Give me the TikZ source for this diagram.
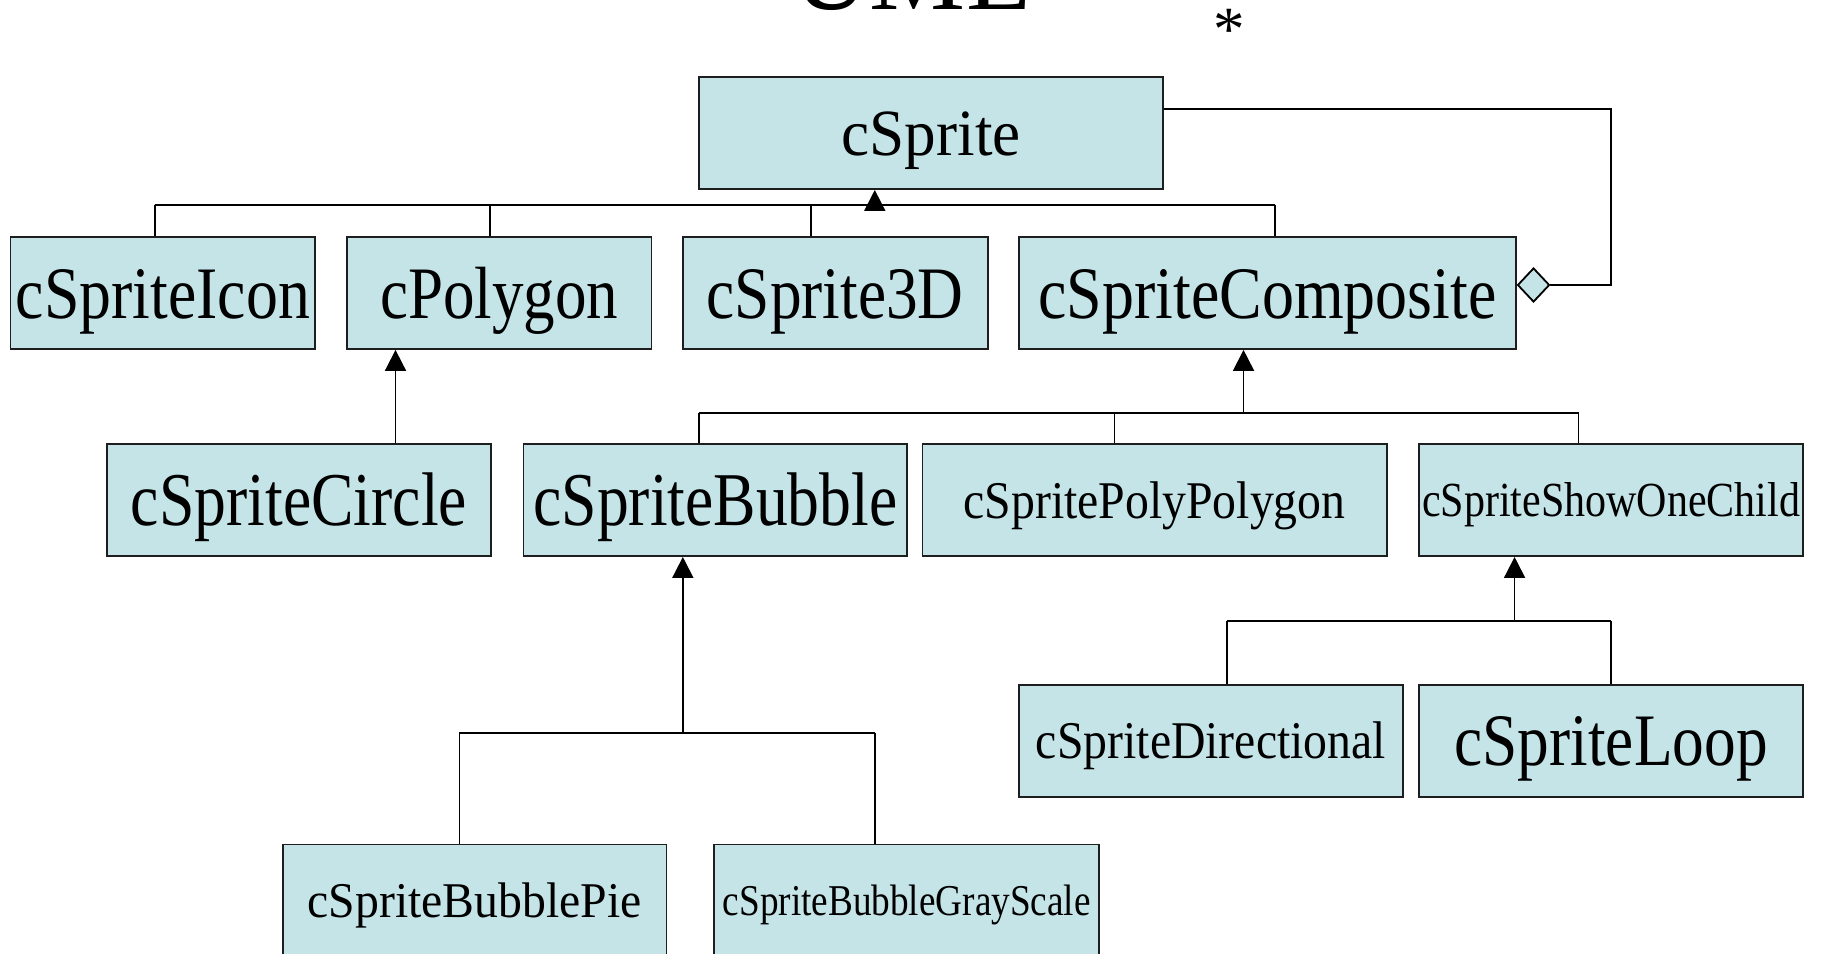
\documentclass[tikz,border=0pt]{standalone}
\usepackage{fontspec}
\setmainfont{Liberation Serif}
\usetikzlibrary{arrows.meta,shapes.geometric}
\definecolor{clsfill}{RGB}{197,228,232}
\definecolor{clsline}{RGB}{30,30,30}
% class name: font size, printed width, text; the rule gives every name the same line box
\newcommand\clsname[3]{{\fontsize{#1}{#1}\selectfont\resizebox{#2}{\height}{#3}\rule[-0.216em]{0pt}{1.107em}}}

\begin{document}
\begin{tikzpicture}[x=1.16327pt,y=-1.16327pt,
  cls/.style={draw=clsline, fill=clsfill, line width=1.8pt, inner sep=0pt,
              minimum height=111.7pt, text=black},
  link/.style={draw=black, line width=1.8pt},
  gen/.style={link, -{Triangle[length=21pt,width=21pt]}},
]
\useasboundingbox (0,0) rectangle (1568,820);
\fill[white] (0,0) rectangle (1568,820);
\clip (0,0) rectangle (1568,820);

% heading
\node[anchor=base, inner sep=0pt, font=\fontsize{108}{108}\selectfont] (title) at (784,8.5) {UML};
\node[anchor=base, inner sep=0pt, font=\fontsize{63}{63}\selectfont] (star) at (1057,43) {*};

% classes
\node[cls, minimum width=464.1pt] (sprite) at (800.5,114.5) {\clsname{66}{179pt}{cSprite}};

\node[cls, minimum width=304.8pt] (icon) at (140,252) {\clsname{74}{294pt}{cSpriteIcon}};
\node[cls, minimum width=304.8pt] (poly) at (429,252) {\clsname{74}{238pt}{cPolygon}};
\node[cls, minimum width=304.8pt] (s3d)  at (718,252) {\clsname{74}{257pt}{cSprite3D}};
\node[cls, minimum width=496.7pt] (comp) at (1089.5,252) {\clsname{74}{458pt}{cSpriteComposite}};

\node[cls, minimum width=383.9pt] (circle)  at (257,430)    {\clsname{76}{336pt}{cSpriteCircle}};
\node[cls, minimum width=383.9pt] (bubble)  at (615,430)    {\clsname{76}{364pt}{cSpriteBubble}};
\node[cls, minimum width=464.1pt] (ppoly)   at (992.5,430)  {\clsname{53}{382pt}{cSpritePolyPolygon}};
\node[cls, minimum width=383.9pt] (showone) at (1385,430)   {\clsname{49}{378pt}{cSpriteShowOneChild}};

\node[cls, minimum width=383.9pt] (dir)  at (1041,637) {\clsname{53}{350pt}{cSpriteDirectional}};
\node[cls, minimum width=383.9pt] (loop) at (1385,637) {\clsname{74}{313pt}{cSpriteLoop}};

\node[cls, minimum width=383.9pt] (pie)  at (408,774)   {\clsname{50}{334pt}{cSpriteBubblePie}};
\node[cls, minimum width=385pt]   (gray) at (779.5,774) {\clsname{44}{368pt}{cSpriteBubbleGrayScale}};

% subclasses of cSprite
\coordinate (j0)  at (752,176);
\coordinate (j0a) at (133,176);
\coordinate (j0b) at (421,176);
\coordinate (j0c) at (697,176);
\coordinate (j0d) at (1096,176);
\draw[link] (j0a) -- (j0d);
\draw[link] (j0a) -- (icon.north -| j0a);
\draw[link] (j0b) -- (poly.north -| j0b);
\draw[link] (j0c) -- (s3d.north -| j0c);
\draw[link] (j0d) -- (comp.north -| j0d);
\draw[gen] (j0) -- (sprite.south -| j0);

% cSpriteCircle extends cPolygon
\coordinate (j1) at (340,341);
\draw[gen] (circle.north -| j1) -- (poly.south -| j1);

% subclasses of cSpriteComposite
\coordinate (j2)  at (1069,355);
\coordinate (j2a) at (601,355);
\coordinate (j2b) at (958,355);
\coordinate (j2c) at (1357,355);
\draw[link] (j2a) -- (j2c);
\draw[link] (j2a) -- (bubble.north -| j2a);
\draw[link] (j2b) -- (ppoly.north -| j2b);
\draw[link] (j2c) -- (showone.north -| j2c);
\draw[gen] (j2) -- (comp.south -| j2);

% subclasses of cSpriteBubble
\coordinate (j3)  at (587,630);
\coordinate (j3a) at (395,630);
\coordinate (j3b) at (752,630);
\draw[link] (j3a) -- (j3b);
\draw[link] (j3a) -- (pie.north -| j3a);
\draw[link] (j3b) -- (gray.north -| j3b);
\draw[gen] (j3) -- (bubble.south -| j3);

% subclasses of cSpriteShowOneChild
\coordinate (j4)  at (1302,534);
\coordinate (j4a) at (1055,534);
\coordinate (j4b) at (1385,534);
\draw[link] (j4a) -- (j4b);
\draw[link] (j4a) -- (dir.north -| j4a);
\draw[link] (j4b) -- (loop.north -| j4b);
\draw[gen] (j4) -- (showone.south -| j4);

% aggregation: a composite holds sprites
\coordinate (a1) at (1385,94);
\coordinate (a2) at (1385,245);
\node[diamond, draw=black, fill=clsfill, line width=1.8pt, inner sep=0pt,
      minimum width=32pt, minimum height=34pt, anchor=west] (agg) at (comp.east |- a2) {};
\draw[link] (sprite.east |- a1) -- (a1) -- (a2) -- (agg.east);
\end{tikzpicture}
\end{document}
